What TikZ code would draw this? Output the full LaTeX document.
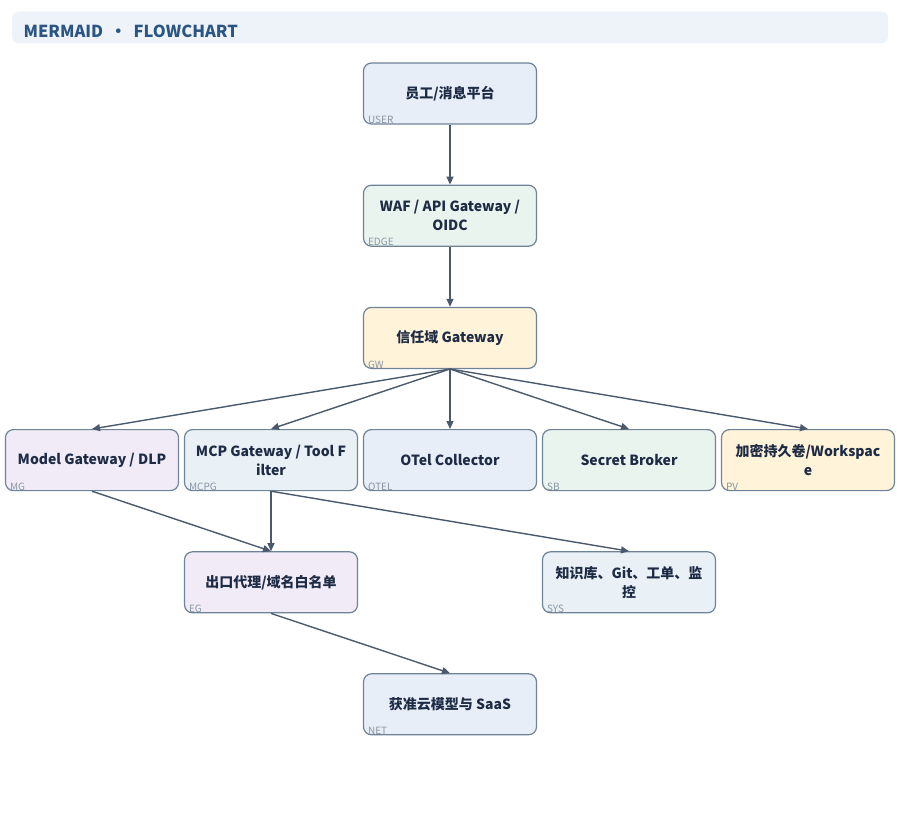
\documentclass[tikz,border=0pt]{standalone}
\usepackage{fontspec}
\setmainfont{Noto Sans CJK SC}
\usepackage{xcolor}
\definecolor{titlebg}{RGB}{238, 243, 249}
\definecolor{titletxt}{RGB}{43, 86, 131}
\definecolor{boxline}{RGB}{111, 131, 150}
\definecolor{boxtxt}{RGB}{30, 43, 69}
\definecolor{tagtxt}{RGB}{138, 150, 163}
\definecolor{wire}{RGB}{74, 89, 107}
\definecolor{fblue}{RGB}{231, 238, 248}
\definecolor{fsteel}{RGB}{233, 241, 247}
\definecolor{fgreen}{RGB}{234, 244, 239}
\definecolor{fyellow}{RGB}{255, 243, 217}
\definecolor{flilac}{RGB}{241, 235, 248}
\usepackage{tikz}
\usetikzlibrary{positioning, arrows.meta}

\begin{document}
\begin{tikzpicture}[x=1pt, y=-1pt, node distance=60pt and 4.8pt]

  \tikzstyle{flowbox} = [
    rounded corners=8pt,
    draw=boxline, line width=1.2pt,
    minimum width=173pt, minimum height=61pt,
    align=center, inner sep=2pt,
    font=\bfseries\fontsize{14}{19}\selectfont, text=boxtxt
  ]
  \tikzstyle{tag} = [
    font=\fontsize{10}{10}\selectfont, text=tagtxt,
    inner sep=0pt, anchor=south west, xshift=5pt, yshift=0.5pt
  ]
  \tikzstyle{flowarrow} = [
    -{Triangle[length=8pt, width=7pt]}, line width=1.4pt, color=wire
  ]

  \useasboundingbox (0,0) rectangle (900,840);

  % title bar
  \node[fill=titlebg, rounded corners=7pt, minimum width=876pt,
        minimum height=32pt, inner sep=0pt] (titlebar) at (450,27.5) {};
  \node[anchor=west, font=\bfseries\fontsize{16.5}{16.5}\selectfont,
        text=titletxt] (title) at (20,31)
    {MERMAID\hspace{7pt}•\hspace{7pt}FLOWCHART};

  \node[flowbox, fill=fblue, label={[tag]south west:USER}] (user)
    at (450,93.5) {员工/消息平台};

  \node[flowbox, fill=fgreen, label={[tag]south west:EDGE}, below=of user] (edge)
    {WAF / API Gateway /\\OIDC};

  \node[flowbox, fill=fyellow, label={[tag]south west:GW}, below=of edge] (gw)
    {信任域 Gateway};

  \node[flowbox, fill=fblue, label={[tag]south west:OTEL}, below=of gw] (otel)
    {OTel Collector};

  \node[flowbox, fill=fsteel, label={[tag]south west:MCPG}, left=of otel] (mcpg)
    {MCP Gateway / Tool F\\ilter};

  \node[flowbox, fill=flilac, label={[tag]south west:MG}, left=of mcpg] (mg)
    {Model Gateway / DLP};

  \node[flowbox, fill=fgreen, label={[tag]south west:SB}, right=of otel] (sb)
    {Secret Broker};

  \node[flowbox, fill=fyellow, label={[tag]south west:PV}, right=of sb] (pv)
    {加密持久卷/Workspac\\e};

  \node[flowbox, fill=flilac, label={[tag]south west:EG}, below=of mcpg] (eg)
    {出口代理/域名白名单};

  \node[flowbox, fill=fsteel, label={[tag]south west:SYS}, below=of sb] (sys)
    {知识库、Git、工单、监\\控};

  \node[flowbox, fill=fblue, label={[tag]south west:NET}, below=182pt of otel] (net)
    {获准云模型与 SaaS};

  \draw[flowarrow] (user.south) -- (edge.north);
  \draw[flowarrow] (edge.south) -- (gw.north);
  \draw[flowarrow] (gw.south) -- (mg.north);
  \draw[flowarrow] (gw.south) -- (mcpg.north);
  \draw[flowarrow] (gw.south) -- (otel.north);
  \draw[flowarrow] (gw.south) -- (sb.north);
  \draw[flowarrow] (gw.south) -- (pv.north);
  \draw[flowarrow] (mg.south) -- (eg.north);
  \draw[flowarrow] (mcpg.south) -- (eg.north);
  \draw[flowarrow] (mcpg.south) -- (sys.north);
  \draw[flowarrow] (eg.south) -- (net.north);

\end{tikzpicture}
\end{document}
